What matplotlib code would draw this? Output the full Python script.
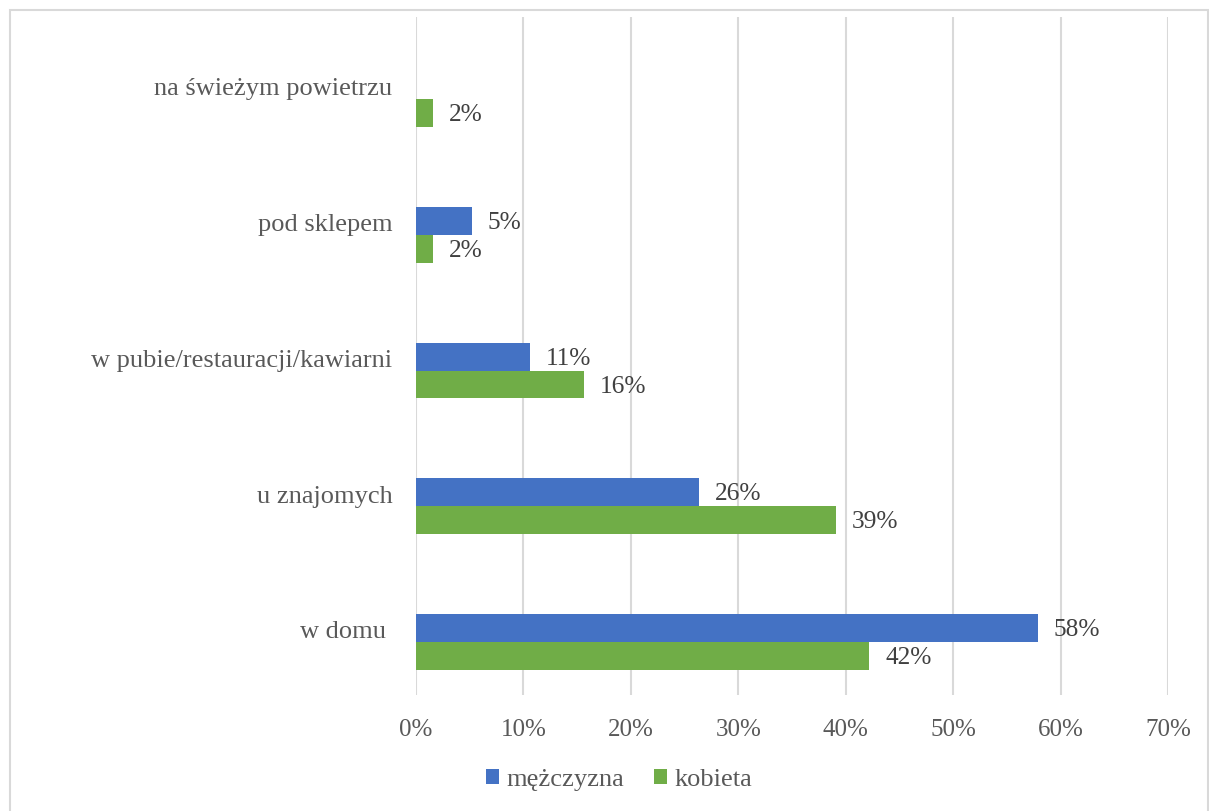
import numpy as np
import matplotlib.pyplot as plt
from matplotlib.patches import Rectangle

# dane (w procentach), od dolu do góry
categories = ['w domu ', 'u znajomych', 'w pubie/restauracji/kawiarni',
              'pod sklepem', 'na świeżym powietrzu']
men = [57.9, 26.3, 10.6, 5.2, np.nan]
women = [42.2, 39.1, 15.6, 1.6, 1.6]
series_names = ['mężczyzna', 'kobieta']
ticks = [0, 10, 20, 30, 40, 50, 60, 70]

blue = '#4472C4'
green = '#70AD47'
grey_text = '#595959'
label_text = '#404040'
grid_col = '#D9D9D9'

plt.rcParams['font.family'] = ['Liberation Serif', 'DejaVu Serif']

fig = plt.figure(figsize=(12.09, 8.11), dpi=100)
ax = fig.add_axes([416 / 1209, 116 / 811, 752 / 1209, 678 / 811])

y = np.arange(len(categories))
h = 0.206
bars_m = ax.barh(y + h / 2, men, height=h, color=blue, label=series_names[0], zorder=3)
bars_w = ax.barh(y - h / 2, women, height=h, color=green, label=series_names[1], zorder=3)

for bars, vals in [(bars_m, men), (bars_w, women)]:
    for b, v in zip(bars, vals):
        if np.isnan(v):
            continue
        ax.annotate(f'{v:.0f}%', (v, b.get_y() + b.get_height() / 2),
                    xytext=(11.5, -1.5), textcoords='offset points',
                    ha='left', va='center', fontsize=18.3, color=label_text)

ax.set_xlim(0, 70)
ax.set_ylim(-0.39, 4.604)
ax.set_xticks(ticks)
ax.set_xticklabels([f'{t}%' for t in ticks], fontsize=18, color=grey_text)
ax.set_yticks(y + 0.09)
ax.set_yticklabels(categories, fontsize=19, color=grey_text)
ax.tick_params(axis='x', length=0, pad=17)
ax.tick_params(axis='y', length=0, pad=17)

ax.grid(axis='x', color=grid_col, linewidth=1.5, zorder=0)
for s in ax.spines.values():
    s.set_visible(False)

ax.legend(loc='center', bbox_to_anchor=(619 / 1209, 1 - 780 / 811),
          bbox_transform=fig.transFigure, ncol=2, frameon=False,
          fontsize=19, labelcolor=grey_text, handlelength=0.5,
          handleheight=0.5, handletextpad=0.3, columnspacing=1.1)

fig.patches.append(Rectangle((10 / 1209, -0.01), 1198 / 1209, 1 - 10 / 811 + 0.01,
                             transform=fig.transFigure, fill=False,
                             edgecolor=grid_col, linewidth=1.5))

fig.savefig('out.png', dpi=100)
